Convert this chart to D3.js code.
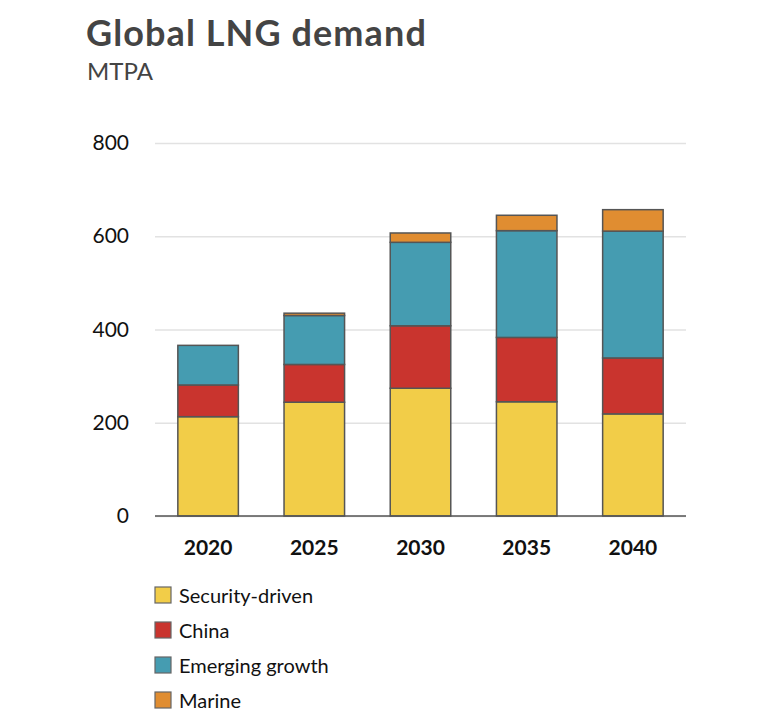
<!DOCTYPE html>
<html>
<head>
<meta charset="utf-8">
<script src="https://cdn.jsdelivr.net/npm/d3@7"></script>
<style>
  body { margin: 0; background: #fff; }
  svg { font-family: Lato, "Noto Sans", sans-serif; }
</style>
</head>
<body>
<script>
// chart data (MTPA)
const years = ["2020", "2025", "2030", "2035", "2040"];
const seriesNames = ["Security-driven", "China", "Emerging growth", "Marine"];
const securityDriven = [213, 244, 274, 245, 219];
const china = [68, 81, 134, 138, 120];
const emergingGrowth = [85, 105, 179, 229, 272];
const marine = [0, 5, 20, 33, 46];
const yTicks = [0, 200, 400, 600, 800];
const colors = ["#f2cd48", "#c9342e", "#459cb1", "#e08d31"];

const width = 768, height = 724;
const margin = { left: 155, right: 82, top: 143, bottom: 208 };

const rows = years.map((y, i) => ({
  year: y,
  "Security-driven": securityDriven[i],
  "China": china[i],
  "Emerging growth": emergingGrowth[i],
  "Marine": marine[i]
}));

const stack = d3.stack().keys(seriesNames);
const layers = stack(rows);

const svg = d3.select("body").append("svg")
  .attr("width", width)
  .attr("height", height);

const x = d3.scaleBand()
  .domain(years)
  .range([margin.left, width - margin.right])
  .paddingInner(0.43)
  .paddingOuter(0.215);

const y = d3.scaleLinear()
  .domain([0, 800])
  .range([height - margin.bottom, margin.top]);

// title
svg.append("text")
  .attr("x", 86)
  .attr("y", 46)
  .attr("font-size", 36)
  .attr("font-weight", 700)
  .attr("letter-spacing", 1.1)
  .attr("fill", "#444")
  .text("Global LNG demand");

svg.append("text")
  .attr("x", 87)
  .attr("y", 80)
  .attr("font-size", 24)
  .attr("fill", "#444")
  .text("MTPA");

// gridlines + y labels
const yAxis = svg.append("g")
  .attr("transform", `translate(${margin.left},0)`)
  .call(d3.axisLeft(y).tickValues(yTicks).tickSize(-(width - margin.left - margin.right)).tickPadding(26));

yAxis.select(".domain").remove();
yAxis.selectAll(".tick line").attr("stroke", "#e2e2e2").attr("stroke-width", 1.5);
yAxis.selectAll(".tick text")
  .attr("font-size", 21)
  .attr("fill", "#111")
  .attr("font-family", "Lato, sans-serif");

// bars
svg.append("g")
  .selectAll("g")
  .data(layers)
  .join("g")
  .attr("fill", (d, i) => colors[i])
  .selectAll("rect")
  .data(d => d.filter(s => s[1] - s[0] > 0))
  .join("rect")
  .attr("x", d => x(d.data.year))
  .attr("width", x.bandwidth())
  .attr("y", d => y(d[1]))
  .attr("height", d => y(d[0]) - y(d[1]))
  .attr("stroke", "#555")
  .attr("stroke-width", 1.5);

// baseline
svg.append("line")
  .attr("x1", margin.left)
  .attr("x2", width - margin.right)
  .attr("y1", y(0))
  .attr("y2", y(0))
  .attr("stroke", "#555")
  .attr("stroke-width", 1.5);

// x labels
const xAxis = svg.append("g")
  .attr("transform", `translate(0,${y(0)})`)
  .call(d3.axisBottom(x).tickSize(0).tickPadding(24));
xAxis.select(".domain").remove();
xAxis.selectAll(".tick text")
  .attr("font-size", 21)
  .attr("font-weight", 700)
  .attr("fill", "#111")
  .attr("font-family", "Lato, sans-serif");

// legend
const legend = svg.append("g")
  .selectAll("g")
  .data(seriesNames)
  .join("g")
  .attr("transform", (d, i) => `translate(155,${587 + i * 35})`);

legend.append("rect")
  .attr("width", 16)
  .attr("height", 16)
  .attr("fill", (d, i) => colors[i])
  .attr("stroke", "#666")
  .attr("stroke-width", 1.2);

legend.append("text")
  .attr("x", 24)
  .attr("y", 16)
  .attr("font-size", 20)
  .attr("fill", "#111")
  .text(d => d);
</script>
</body>
</html>
